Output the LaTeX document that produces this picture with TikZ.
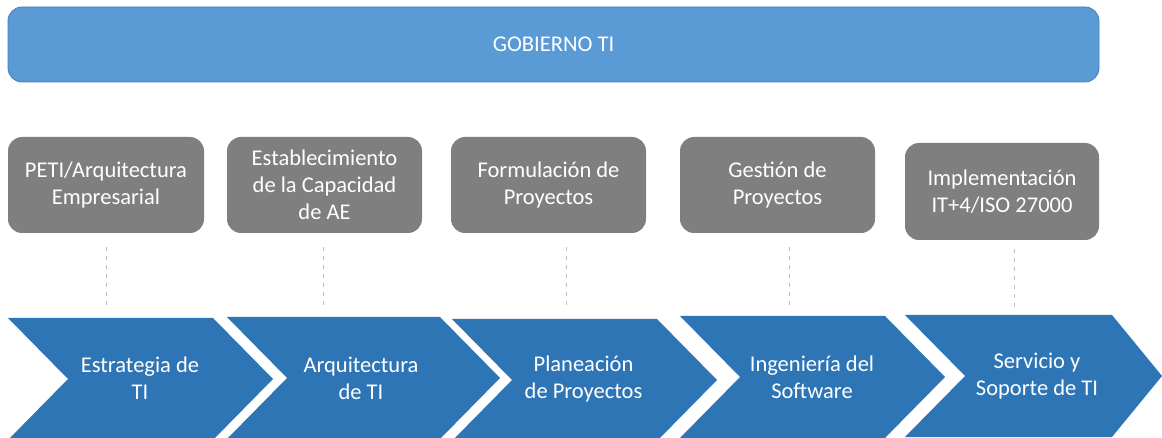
\documentclass[tikz,border=0pt]{standalone}
\usepackage{fontspec}
\setmainfont{Carlito}
\definecolor{barblue}{HTML}{5B9BD5}
\definecolor{barborder}{HTML}{4A7EBB}
\definecolor{boxgray}{HTML}{7F7F7F}
\definecolor{chevblue}{HTML}{2E75B6}
\definecolor{dashgray}{HTML}{BFBFBF}
\begin{document}
\begin{tikzpicture}[x=1pt,y=-1pt,
  topbar/.style={draw=barborder, line width=0.8pt, fill=barblue, rounded corners=14pt,
    text=white, font=\fontsize{22.5}{27}\selectfont, inner sep=0pt},
  graybox/.style={fill=boxgray, rounded corners=14pt, text=white, align=center,
    font=\fontsize{22.5}{27}\selectfont, inner sep=0pt, minimum height=96pt},
  chevtext/.style={text=white, align=center, font=\fontsize{22.5}{27}\selectfont, inner sep=0pt},
  chev/.style={fill=chevblue},
  vline/.style={draw=dashgray, line width=1pt, dash pattern=on 4pt off 5pt}
]
\useasboundingbox (0,0) rectangle (1162,438);
\fill[white] (0,0) rectangle (1162,438);

% top bar
\node[topbar, minimum width=1091pt, minimum height=75pt] (gob) at (553.5,44.5) {GOBIERNO TI};

% gray boxes
\node[graybox, minimum width=196pt] (g1) at (106,185) {PETI/Arquitectura\\Empresarial};
\node[graybox, minimum width=195pt] (g2) at (324.5,185) {Establecimiento\\de la Capacidad\\de AE};
\node[graybox, minimum width=195pt] (g3) at (548.5,185) {Formulación de\\Proyectos};
\node[graybox, minimum width=195pt] (g4) at (777.5,185) {Gestión de\\Proyectos};
\node[graybox, minimum width=194pt, minimum height=97pt] (g5) at (1002,191.5) {Implementación\\IT+4/ISO 27000};

% chevrons
\foreach \l/\r/\t/\d in {8/213/318/60, 227/440/317/60, 452/657/319/60, 680/885/316/60, 905/1112/315/50}{
  \fill[chev] (\l,\t) -- (\r,\t) -- (\r+\d,\t+61) -- (\r,\t+122) -- (\l,\t+122) -- (\l+60,\t+61) -- cycle;
}
\node[chevtext] (c1) at (140,378) {Estrategia de\\TI};
\node[chevtext] (c2) at (361,378) {Arquitectura\\de TI};
\node[chevtext] (c3) at (583.5,379) {Planeación\\de Proyectos};
\node[chevtext] (c4) at (812,377) {Ingeniería del\\Software};
\node[chevtext] (c5) at (1037,376) {Servicio y\\Soporte de TI};

% chevron top points for the dashed connectors
\coordinate (t1) at (106,318);
\coordinate (t2) at (323,317);
\coordinate (t3) at (566,319);
\coordinate (t4) at (789,316);
\coordinate (t5) at (1014,315);

\draw[vline, shorten <=14pt, shorten >=11pt] (g1.south -| t1) -- (t1);
\draw[vline, shorten <=14pt, shorten >=11pt] (g2.south -| t2) -- (t2);
\draw[vline, shorten <=14pt, shorten >=11pt] (g3.south -| t3) -- (t3);
\draw[vline, shorten <=14pt, shorten >=11pt] (g4.south -| t4) -- (t4);
\draw[vline, shorten <=9pt, shorten >=6pt] (g5.south -| t5) -- (t5);
\end{tikzpicture}
\end{document}
